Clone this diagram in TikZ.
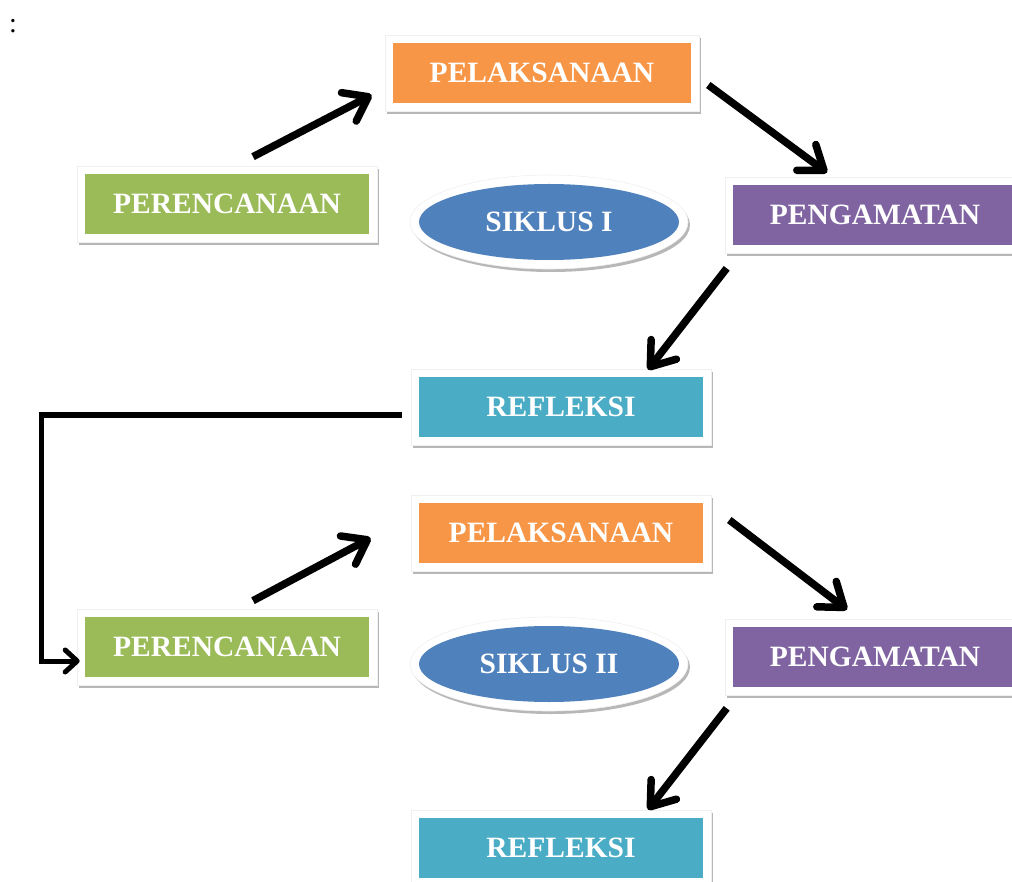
\documentclass[tikz,border=0pt]{standalone}
\usepackage{fontspec}
\setmainfont{Liberation Serif}
\usetikzlibrary{arrows.meta,shadows,shapes.geometric,calc}
\definecolor{cOrange}{HTML}{F79646}
\definecolor{cGreen}{HTML}{9BBB59}
\definecolor{cPurple}{HTML}{8064A2}
\definecolor{cTeal}{HTML}{4BACC6}
\definecolor{cBlue}{HTML}{4F81BD}
\tikzset{
  frame/.style={rectangle, fill=white, draw=black!6, line width=0.6pt, inner sep=0pt,
    minimum height=76pt,
    drop shadow={shadow xshift=2pt, shadow yshift=-3pt, opacity=0.4, fill=black!70}},
  cell/.style={rectangle, fill=#1, inner sep=0pt, minimum height=60pt, text=white,
    font=\fontsize{29.5}{32}\selectfont\bfseries},
  oval/.style={ellipse, fill=white, draw=black!6, line width=0.6pt, inner sep=0pt,
    minimum width=278pt, minimum height=94pt,
    drop shadow={shadow xshift=2pt, shadow yshift=-3pt, opacity=0.4, fill=black!70}},
  ovalin/.style={ellipse, fill=cBlue, inner sep=0pt, minimum width=260pt, minimum height=76pt,
    text=white, font=\fontsize{29.5}{32}\selectfont\bfseries},
  arr/.style={line width=7.5pt, line cap=butt, -{Straight Barb[length=22pt, width=32pt, round]}},
  conn/.style={line width=5pt, line cap=butt, -{Straight Barb[length=12pt, width=22pt, round]}},
}
\begin{document}
\begin{tikzpicture}[x=1pt, y=-1pt]
\useasboundingbox (0,0) rectangle (1012,882);
\node[anchor=base, font=\fontsize{28}{30}\selectfont] (colon) at (13,33) {:};
% cycle I
\node[frame, minimum width=314pt] (p1f) at (542,73) {};
\node[cell=cOrange, minimum width=298pt] (p1) at (p1f) {PELAKSANAAN};
\node[frame, minimum width=300pt] (pe1f) at (227,204) {};
\node[cell=cGreen, minimum width=284pt] (pe1) at (pe1f) {PERENCANAAN};
\node[oval] (s1f) at (549,222) {};
\node[ovalin] (s1) at (s1f) {SIKLUS I};
\node[frame, minimum width=300pt] (g1f) at (875,215) {};
\node[cell=cPurple, minimum width=284pt] (g1) at (g1f) {PENGAMATAN};
\node[frame, minimum width=300pt] (r1f) at (561,407) {};
\node[cell=cTeal, minimum width=284pt] (r1) at (r1f) {REFLEKSI};
% cycle II
\node[frame, minimum width=300pt] (p2f) at (561,533) {};
\node[cell=cOrange, minimum width=284pt] (p2) at (p2f) {PELAKSANAAN};
\node[frame, minimum width=300pt] (pe2f) at (227,647) {};
\node[cell=cGreen, minimum width=284pt] (pe2) at (pe2f) {PERENCANAAN};
\node[oval] (s2f) at (549,664) {};
\node[ovalin] (s2) at (s2f) {SIKLUS II};
\node[frame, minimum width=300pt] (g2f) at (875,657) {};
\node[cell=cPurple, minimum width=284pt] (g2) at (g2f) {PENGAMATAN};
\node[frame, minimum width=300pt] (r2f) at (561,848) {};
\node[cell=cTeal, minimum width=284pt] (r2) at (r2f) {REFLEKSI};
% arrows
\draw[arr] ([shift={(26,-9)}]pe1f.north) -- ([shift={(-13,22)}]p1f.west);
\draw[arr] ([shift={(9,12)}]p1f.east) -- ([shift={(-48,-4)}]g1f.north);
\draw[arr] ([shift={(2,15)}]g1f.south west) -- ([shift={(87,1)}]r1f.north);
\draw[conn] ([shift={(-9,8)}]r1f.west) -- ++(-360,0) |- ([shift={(3,14)}]pe2f.west);
\draw[arr] ([shift={(26,-8)}]pe2f.north) -- ([shift={(-40,5)}]p2f.west);
\draw[arr] ([shift={(18,-13)}]p2f.east) -- ([shift={(-28,-9)}]g2f.north);
\draw[arr] ([shift={(2,13)}]g2f.south west) -- ([shift={(87,0)}]r2f.north);
\end{tikzpicture}
\end{document}
